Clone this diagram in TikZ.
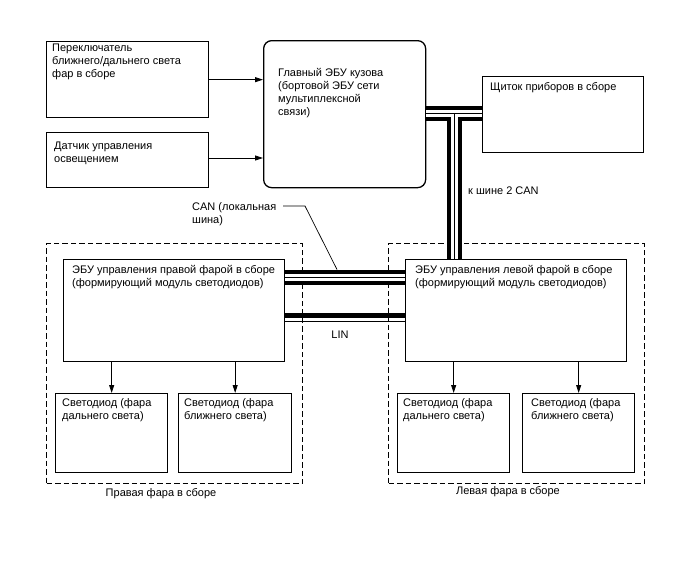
\documentclass[tikz,border=0pt]{standalone}
\usepackage{fontspec}
\setmainfont{Liberation Sans}
\usetikzlibrary{arrows.meta}
\begin{document}
\begin{tikzpicture}[x=1pt,y=-1pt,
  box/.style={draw=black, line width=1.3pt, anchor=north west, inner sep=0pt, fill=white},
  grp/.style={draw=black, line width=1.4pt, dash pattern=on 5.5pt off 3pt, anchor=north west, inner sep=0pt},
  txt/.style={anchor=north west, inner sep=0pt, align=left, font=\fontsize{11}{13}\selectfont},
  ctxt/.style={anchor=north, inner sep=0pt, align=center, font=\fontsize{11}{13}\selectfont},
  arr/.style={line width=0.8pt, -{Triangle[length=8pt,width=5pt]}},
  busk/.style={line width=15pt, black},
  busw/.style={line width=7pt, white},
  busc/.style={line width=0.9pt, black},
  leader/.style={line width=0.7pt},
]
\useasboundingbox (0,0) rectangle (688,560);

% group boxes
\node[grp, minimum width=256pt, minimum height=240pt] (rdash) at (46,243) {};
\node[grp, minimum width=256pt, minimum height=240pt] (ldash) at (388,243) {};

% boxes
\node[box, minimum width=162pt, minimum height=76pt] (sw) at (46,41) {};
\node[box, minimum width=162pt, minimum height=55pt] (sen) at (46,132) {};
\node[box, rounded corners=8pt, minimum width=162pt, minimum height=147pt] (main) at (263,40) {};
\node[box, minimum width=161pt, minimum height=76pt] (inst) at (482,76) {};
\node[box, minimum width=221pt, minimum height=102pt] (recu) at (63,259) {};
\node[box, minimum width=221pt, minimum height=102pt] (lecu) at (405,259) {};
\node[box, minimum width=112pt, minimum height=79pt] (ra) at (55,393) {};
\node[box, minimum width=113pt, minimum height=79pt] (rb) at (178,393) {};
\node[box, minimum width=112pt, minimum height=79pt] (la) at (397,393) {};
\node[box, minimum width=112pt, minimum height=79pt] (lb) at (522,393) {};

% texts
\node[txt] (t-sw) at (52,44) {Переключатель\\ближнего/дальнего света\\фар в сборе};
\node[txt] (t-sen) at (54,142) {Датчик управления\\освещением};
\node[txt] (t-main) at (278,68) {Главный ЭБУ кузова\\(бортовой ЭБУ сети\\мультиплексной\\связи)};
\node[txt] (t-inst) at (490,82) {Щиток приборов в сборе};
\node[txt] (t-recu) at (72,265) {ЭБУ управления правой фарой в сборе\\(формирующий модуль светодиодов)};
\node[txt] (t-lecu) at (415,265) {ЭБУ управления левой фарой в сборе\\(формирующий модуль светодиодов)};
\node[txt] (t-ra) at (62,398) {Светодиод (фара\\дальнего света)};
\node[txt] (t-rb) at (184,398) {Светодиод (фара\\ближнего света)};
\node[txt] (t-la) at (403,398) {Светодиод (фара\\дальнего света)};
\node[txt] (t-lb) at (531,398) {Светодиод (фара\\ближнего света)};
\node[txt] (t-can2) at (468,187) {к шине 2 CAN};
\node[txt] (t-can) at (192,202) {CAN (локальная\\шина)};
\node[ctxt] (t-lin) at (340,331) {LIN};
\node[ctxt] (t-rg) at (161,488) {Правая фара в сборе};
\node[ctxt] (t-lg) at (508,486) {Левая фара в сборе};

% arrows
\draw[arr] (sw.east) -- (main.west |- sw.east);
\draw[arr] (sen.east |- 0,158) -- (main.west |- 0,158);
\draw[arr] (recu.south -| ra.north) -- (ra.north);
\draw[arr] (recu.south -| rb.north) -- (rb.north);
\draw[arr] (lecu.south -| la.north) -- (la.north);
\draw[arr] (lecu.south -| lb.north) -- (lb.north);

% CAN bus main - instrument panel and down to left ECU
\coordinate (tj) at (454.5,113);
\draw[busk] (main.east |- tj) -- (inst.west |- tj);
\draw[busk] (tj) -- (tj |- lecu.north);
\draw[busw] (main.east |- tj) -- (inst.west |- tj);
\draw[busw] (tj) -- (tj |- lecu.north);
\draw[busc] (main.east |- tj) -- (inst.west |- tj);
\draw[busc] (tj) -- (tj |- lecu.north);

% local CAN bus between ECUs
\draw[busk] (recu.east |- 0,277) -- (lecu.west |- 0,277);
\draw[busw] (recu.east |- 0,277) -- (lecu.west |- 0,277);
\draw[busc] (recu.east |- 0,277) -- (lecu.west |- 0,277);

% LIN
\draw[line width=4.5pt] (recu.east |- 0,315.5) -- (lecu.west |- 0,315.5);
\draw[line width=1pt] (recu.east |- 0,321) -- (lecu.west |- 0,321);

% CAN leader
\coordinate (canl) at (283,206);
\coordinate (canb) at (305,206);
\coordinate (cant) at (337,269.5);
\draw[leader] (canl) -- (canb) -- (cant);
\end{tikzpicture}
\end{document}
